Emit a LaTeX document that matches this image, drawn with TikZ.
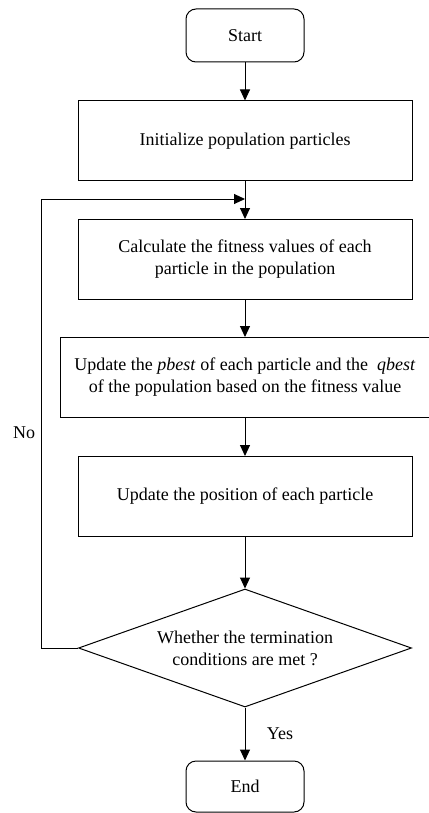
\documentclass[tikz,border=0pt]{standalone}
\usepackage{fontspec}
\setmainfont{Liberation Serif}
\usetikzlibrary{shapes.geometric,arrows.meta}

\begin{document}
\begin{tikzpicture}[x=1pt, y=-1pt, line width=1pt, font=\fontsize{18}{22}\selectfont,
    terminal/.style ={rectangle, draw, rounded corners=10pt, minimum width=118pt, minimum height=53pt},
    process/.style ={rectangle, draw, align=center, minimum width=334pt, minimum height=80pt},
    decision/.style ={diamond, draw, align=center, aspect=2.82, inner sep=0pt, minimum width=333pt, minimum height=118pt},
    flow/.style ={-{Triangle[length=11pt, width=10pt]}}]
   \useasboundingbox (0,0) rectangle (428,813);

   \node[terminal] (start) at (245,35.5) {Start};
   \node[process] (init) at (245,141) {Initialize population particles};
   \node[process] (fitness) at (245,259.5) {Calculate the fitness values of each\\particle in the population};
   \node[process, minimum width=370pt] (pbest) at (245,377.5) {Update the \textit{pbest} of each particle and the \ \textit{qbest}\\of the population based on the fitness value};
   \node[process] (move) at (245,496.5) {Update the position of each particle};
   \node[decision] (check) at (245,648) {Whether the termination\\conditions are met ?};
   \node[terminal, minimum height=51pt] (stop) at (245,786.5) {End};

   \coordinate (back) at (41,199);
   \coordinate (merge) at (245,199);

   \draw[flow] (start) to (init);
   \draw[flow] (init) to (fitness);
   \draw[flow] (fitness) to (pbest);
   \draw[flow] (pbest) to (move);
   \draw[flow] (move) to (check);
   \draw[flow] (check) to node[right=18pt] {Yes} (stop);
   \draw[flow] (check.west) -| (back) node[pos=0.74, left=2pt] {No} -- (merge);
 \end{tikzpicture}
\end{document}
